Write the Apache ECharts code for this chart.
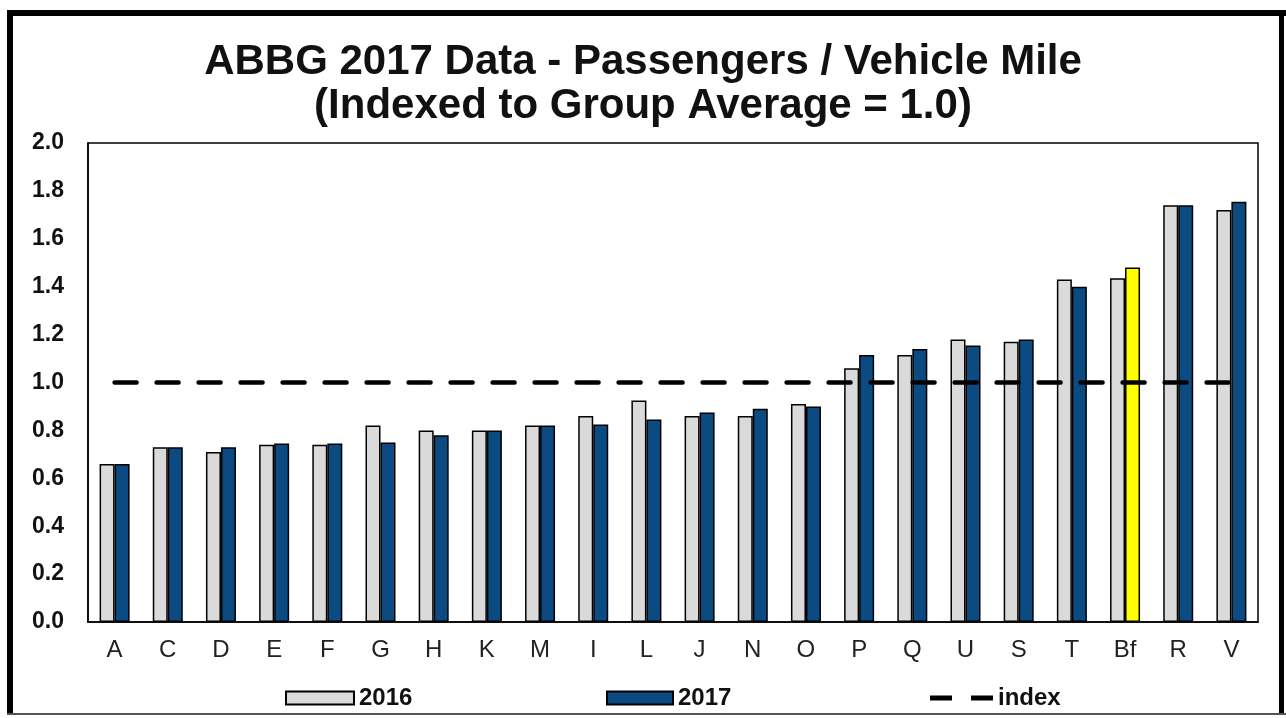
<!DOCTYPE html>
<html>
<head>
<meta charset="utf-8">
<script src="https://cdn.jsdelivr.net/npm/echarts@6/dist/echarts.min.js"></script>
<style>
  html, body { margin: 0; padding: 0; background: #fff; }
  #chart { width: 1286px; height: 718px; }
</style>
</head>
<body>
<div id="chart"></div>
<script>
// data
var categories = ['A', 'C', 'D', 'E', 'F', 'G', 'H', 'K', 'M', 'I', 'L', 'J', 'N', 'O', 'P', 'Q', 'U', 'S', 'T', 'Bf', 'R', 'V'];
var values2016 = [0.66, 0.73, 0.71, 0.74, 0.74, 0.82, 0.80, 0.80, 0.82, 0.86, 0.925, 0.86, 0.86, 0.91, 1.06, 1.115, 1.18, 1.17, 1.43, 1.435, 1.74, 1.72];
var values2017 = [0.66, 0.73, 0.73, 0.745, 0.745, 0.75, 0.78, 0.80, 0.82, 0.825, 0.845, 0.875, 0.89, 0.90, 1.115, 1.14, 1.155, 1.18, 1.40, 1.48, 1.74, 1.755];
var indexValues = [1, 1, 1, 1, 1, 1, 1, 1, 1, 1, 1, 1, 1, 1, 1, 1, 1, 1, 1, 1, 1, 1];
var highlightCategory = 'Bf';

(function() {
  var gray = '#dadada';
  var blue = '#0c4a82';
  var font = 'Liberation Sans, Arial, sans-serif';
  var titleStyle = { fontFamily: font, fontWeight: 'bold', fontSize: 42, color: '#111' };
  var legendText = { fontFamily: font, fontWeight: 'bold', fontSize: 24, color: '#111' };

  var data2017 = values2017.map(function(v, i) {
    if (categories[i] === highlightCategory) {
      return { value: v, itemStyle: { color: '#ffff00' } };
    }
    return v;
  });

  var chart = echarts.init(document.getElementById('chart'), null, { renderer: 'canvas' });
  chart.setOption({
    animation: false,
    backgroundColor: '#fff',
    title: [
      { text: 'ABBG 2017 Data - Passengers / Vehicle Mile', left: 'center', top: 36, textStyle: titleStyle },
      { text: '(Indexed to Group Average = 1.0)', left: 'center', top: 80, textStyle: titleStyle }
    ],
    grid: {
      left: 88,
      right: 28,
      top: 143,
      bottom: 96,
      show: true,
      borderColor: '#000',
      borderWidth: 1.5,
      backgroundColor: 'transparent'
    },
    legend: [
      {
        data: ['2016'], left: 280, top: 681,
        icon: 'rect', itemWidth: 68, itemHeight: 13, textStyle: legendText
      },
      {
        data: ['2017'], left: 601, top: 681,
        icon: 'rect', itemWidth: 66, itemHeight: 13, textStyle: legendText
      },
      {
        data: [{ name: 'index', icon: 'path://M0,0h22v5h-22zM41,0h22v5h-22z' }],
        left: 925, top: 681,
        itemWidth: 63, itemHeight: 5,
        itemStyle: { color: '#000', borderWidth: 0 },
        textStyle: legendText
      }
    ],
    xAxis: {
      type: 'category',
      data: categories,
      axisLine: { lineStyle: { color: '#000', width: 1.5 } },
      axisTick: { show: false },
      axisLabel: { color: '#222', fontFamily: font, fontSize: 24, margin: 16, interval: 0 }
    },
    yAxis: {
      type: 'value',
      min: 0,
      max: 2,
      interval: 0.2,
      axisLine: { show: true, lineStyle: { color: '#000', width: 1.5 } },
      axisTick: { show: false },
      splitLine: { show: false },
      axisLabel: {
        color: '#111', fontFamily: font, fontWeight: 'bold', fontSize: 23, margin: 24,
        formatter: function(v) { return v.toFixed(1); }
      }
    },
    series: [
      {
        name: '2016',
        type: 'bar',
        data: values2016,
        barWidth: 15,
        barGap: '0%',
        itemStyle: { color: gray, borderColor: '#000', borderWidth: 1.5 }
      },
      {
        name: '2017',
        type: 'bar',
        data: data2017,
        barWidth: 15,
        barGap: '0%',
        itemStyle: { color: blue, borderColor: '#000', borderWidth: 1.5 }
      },
      {
        name: 'index',
        type: 'line',
        data: indexValues,
        symbol: 'none',
        z: 5,
        lineStyle: { color: '#000', width: 4.5, type: [22, 20], cap: 'round' },
        itemStyle: { color: '#000' }
      }
    ],
    graphic: [
      { type: 'rect', shape: { x: 7, y: 10, width: 1279, height: 6 }, style: { fill: '#000' } },
      { type: 'rect', shape: { x: 7, y: 10, width: 6, height: 705 }, style: { fill: '#000' } },
      { type: 'rect', shape: { x: 1279, y: 10, width: 5, height: 705 }, style: { fill: '#000' } },
      { type: 'rect', shape: { x: 7, y: 713, width: 1279, height: 2 }, style: { fill: '#555' } }
    ]
  });
  window.addEventListener('resize', function() { chart.resize(); });
})();
</script>
</body>
</html>
